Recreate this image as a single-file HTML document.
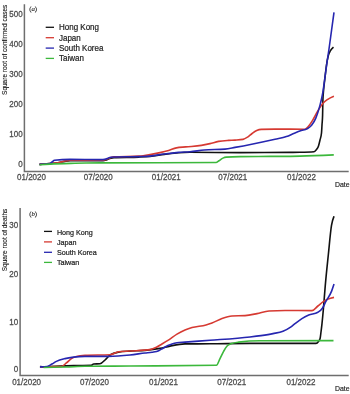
<!DOCTYPE html>
<html><head><meta charset="utf-8"><style>
html,body{margin:0;padding:0;background:#fff;width:350px;height:394px;overflow:hidden;}
svg{display:block;will-change:transform;filter:blur(0.3px);}
</style></head><body>
<svg width="350" height="394" viewBox="0 0 350 394">
<rect width="350" height="394" fill="#fff"/>
<g fill="none" stroke-width="1.6" stroke-linejoin="round" stroke-linecap="butt">
<path d="M39.50,164.40 C43.00,164.10 46.50,163.80 50.00,163.50 C52.67,163.27 55.33,163.19 58.00,162.80 C60.33,162.46 62.67,161.76 65.00,161.40 C66.67,161.14 68.33,160.82 70.00,160.80 C80.00,160.67 90.00,160.60 100.00,160.60 C101.00,160.60 102.00,160.60 103.00,160.60 C104.00,160.60 105.00,160.43 106.00,160.10 C106.83,159.82 107.67,159.23 108.50,158.90 C109.33,158.57 110.17,158.30 111.00,158.10 C112.00,157.86 113.00,157.75 114.00,157.70 C122.33,157.30 130.67,157.50 139.00,157.10 C142.67,156.92 146.33,156.75 150.00,156.40 C154.77,155.94 159.53,155.02 164.30,154.40 C169.07,153.78 173.83,153.03 178.60,152.70 C182.40,152.43 186.20,152.30 190.00,152.30 C206.67,152.30 223.33,152.60 240.00,152.60 C256.67,152.60 273.33,152.53 290.00,152.40 C293.33,152.37 296.67,152.37 300.00,152.30 C304.67,152.21 309.33,152.10 314.00,151.70 C314.83,151.63 315.67,150.64 316.50,149.50 C317.17,148.59 317.83,148.02 318.50,146.00 C319.00,144.48 319.50,142.17 320.00,140.00 C320.50,137.83 321.00,137.67 321.50,133.00 C321.67,131.44 321.83,127.72 322.00,125.00 C322.20,121.74 322.40,121.67 322.60,115.00 C322.70,111.67 322.80,102.86 322.90,100.00 C323.13,93.33 323.37,92.86 323.60,90.00 C323.97,85.50 324.33,83.23 324.70,80.00 C325.30,74.72 325.90,69.04 326.50,65.00 C327.13,60.73 327.77,57.75 328.40,55.40 C329.03,53.05 329.67,52.12 330.30,50.90 C331.37,48.84 332.43,47.97 333.50,47.10" stroke="#111111"/>
<path d="M39.50,164.40 C43.00,164.10 46.50,163.80 50.00,163.50 C52.67,163.27 55.33,163.27 58.00,162.80 C60.33,162.39 62.67,161.44 65.00,161.00 C66.67,160.69 68.33,160.32 70.00,160.30 C80.00,160.17 90.00,160.10 100.00,160.10 C101.00,160.10 102.00,160.10 103.00,160.10 C104.00,160.10 105.00,159.93 106.00,159.60 C106.83,159.32 107.67,158.77 108.50,158.40 C109.33,158.03 110.17,157.66 111.00,157.40 C112.00,157.09 113.00,156.86 114.00,156.80 C122.33,156.33 130.67,156.57 139.00,156.10 C142.67,155.89 146.33,155.22 150.00,154.60 C153.33,154.03 156.67,153.37 160.00,152.60 C162.87,151.94 165.73,151.23 168.60,150.40 C171.20,149.65 173.80,148.46 176.40,147.90 C179.50,147.23 182.60,147.22 185.70,146.90 C190.93,146.36 196.17,146.28 201.40,145.40 C204.27,144.92 207.13,144.27 210.00,143.60 C212.87,142.93 215.73,141.93 218.60,141.40 C221.93,140.79 225.27,140.63 228.60,140.40 C230.73,140.26 232.87,140.24 235.00,140.10 C237.67,139.93 240.33,139.87 243.00,139.40 C244.53,139.13 246.07,138.10 247.60,137.10 C249.10,136.12 250.60,134.57 252.10,133.50 C253.63,132.40 255.17,131.28 256.70,130.60 C258.23,129.92 259.77,129.47 261.30,129.40 C265.87,129.20 270.43,129.10 275.00,129.10 C284.90,129.10 294.80,129.20 304.70,129.20 C306.23,129.20 307.77,127.20 309.30,125.30 C310.40,123.94 311.50,122.09 312.60,120.30 C314.30,117.53 316.00,113.90 317.70,111.10 C319.40,108.30 321.10,105.48 322.80,103.50 C324.47,101.56 326.13,100.45 327.80,99.30 C329.83,97.90 331.87,97.05 333.90,96.20" stroke="#d63a32"/>
<path d="M39.50,164.40 C43.00,164.25 46.50,164.10 50.00,163.50 C50.67,163.39 51.33,162.49 52.00,162.00 C52.83,161.39 53.67,160.29 54.50,160.20 C59.67,159.67 64.83,159.40 70.00,159.40 C80.00,159.40 90.00,159.60 100.00,159.60 C101.00,159.60 102.00,159.60 103.00,159.60 C104.00,159.60 105.00,159.42 106.00,159.10 C106.83,158.84 107.67,158.30 108.50,158.00 C109.33,157.70 110.17,157.47 111.00,157.30 C112.00,157.10 113.00,157.03 114.00,157.00 C122.33,156.73 130.67,156.87 139.00,156.60 C142.67,156.48 146.33,156.43 150.00,156.10 C154.77,155.67 159.53,154.62 164.30,154.00 C169.07,153.38 173.83,152.80 178.60,152.40 C182.40,152.08 186.20,152.03 190.00,151.70 C194.77,151.29 199.53,150.41 204.30,150.00 C211.20,149.40 218.10,149.70 225.00,149.10 C228.33,148.81 231.67,147.99 235.00,147.40 C248.33,145.04 261.67,142.17 275.00,139.20 C278.80,138.35 282.60,137.91 286.40,136.60 C289.07,135.68 291.73,134.26 294.40,133.20 C296.70,132.28 299.00,131.37 301.30,130.60 C303.20,129.97 305.10,129.98 307.00,128.90 C308.53,128.03 310.07,127.25 311.60,125.30 C313.00,123.52 314.40,121.46 315.80,118.10 C317.07,115.06 318.33,111.34 319.60,106.60 C320.67,102.61 321.73,99.18 322.80,92.70 C323.40,89.05 324.00,84.30 324.60,80.00 C325.43,74.03 326.27,67.50 327.10,61.70 C327.73,57.29 328.37,53.40 329.00,49.00 C329.87,42.98 330.73,36.34 331.60,30.00 C332.40,24.14 333.20,18.27 334.00,12.40" stroke="#2626b0"/>
<path d="M39.50,164.80 C43.00,164.55 46.50,164.30 50.00,164.10 C58.33,163.63 66.67,163.50 75.00,163.30 C83.33,163.10 91.67,162.96 100.00,162.90 C138.67,162.63 177.33,162.77 216.00,162.50 C217.00,162.49 218.00,161.42 219.00,160.80 C220.30,159.99 221.60,158.72 222.90,158.10 C224.03,157.56 225.17,157.18 226.30,157.10 C230.87,156.77 235.43,156.66 240.00,156.60 C250.00,156.47 260.00,156.48 270.00,156.40 C280.00,156.32 290.00,156.30 300.00,156.10 C311.27,155.87 322.53,155.39 333.80,154.90" stroke="#3cb83c"/>
<path d="M39.90,366.60 C41.47,366.75 43.03,366.90 44.60,366.90 C46.40,366.90 48.20,366.62 50.00,366.50 C58.33,365.94 66.67,365.78 75.00,365.60 C80.47,365.48 85.93,365.53 91.40,365.40 C92.13,365.38 92.87,364.05 93.60,364.00 C95.73,363.87 97.87,363.93 100.00,363.80 C101.90,363.68 103.80,361.03 105.70,359.30 C107.13,358.00 108.57,355.97 110.00,355.00 C112.87,353.07 115.73,352.60 118.60,352.10 C122.40,351.43 126.20,351.37 130.00,351.10 C135.00,350.75 140.00,350.85 145.00,350.40 C150.00,349.95 155.00,349.36 160.00,348.40 C163.33,347.76 166.67,346.76 170.00,346.10 C175.00,345.12 180.00,343.94 185.00,343.90 C193.33,343.83 201.67,343.85 210.00,343.80 C223.33,343.72 236.67,343.40 250.00,343.40 C272.00,343.40 294.00,343.40 316.00,343.40 C316.83,343.40 317.67,342.70 318.50,341.50 C319.03,340.73 319.57,340.50 320.10,338.50 C320.40,337.38 320.70,334.33 321.00,332.00 C321.33,329.41 321.67,326.70 322.00,323.60 C322.43,319.57 322.87,314.88 323.30,310.00 C323.93,302.87 324.57,293.72 325.20,286.40 C326.23,274.46 327.27,265.02 328.30,255.00 C329.37,244.66 330.43,231.91 331.50,225.40 C332.33,220.32 333.17,218.31 334.00,216.30" stroke="#111111"/>
<path d="M40.00,366.90 C42.67,366.83 45.33,366.76 48.00,366.70 C52.47,366.61 56.93,366.63 61.40,366.50 C63.07,366.45 64.73,364.22 66.40,362.90 C68.07,361.58 69.73,359.68 71.40,358.60 C73.07,357.52 74.73,356.83 76.40,356.40 C79.27,355.67 82.13,355.44 85.00,355.30 C93.33,354.90 101.67,355.10 110.00,354.70 C112.87,354.56 115.73,352.05 118.60,351.70 C122.40,351.23 126.20,351.25 130.00,351.00 C136.67,350.57 143.33,350.53 150.00,349.60 C152.13,349.30 154.27,348.33 156.40,347.30 C158.27,346.40 160.13,345.12 162.00,344.00 C163.97,342.82 165.93,341.66 167.90,340.40 C170.93,338.45 173.97,335.89 177.00,334.10 C179.67,332.53 182.33,331.23 185.00,330.10 C187.33,329.11 189.67,328.30 192.00,327.60 C196.67,326.20 201.33,326.35 206.00,325.00 C208.00,324.42 210.00,323.75 212.00,323.00 C215.33,321.74 218.67,319.67 222.00,318.50 C225.33,317.33 228.67,316.21 232.00,316.00 C236.33,315.73 240.67,315.87 245.00,315.60 C249.00,315.35 253.00,314.37 257.00,313.60 C261.00,312.83 265.00,311.25 269.00,311.00 C274.33,310.67 279.67,310.50 285.00,310.50 C294.00,310.50 303.00,310.60 312.00,310.60 C313.97,310.60 315.93,307.56 317.90,306.00 C319.80,304.49 321.70,302.62 323.60,301.40 C325.10,300.44 326.60,299.72 328.10,299.10 C330.07,298.28 332.03,297.84 334.00,297.40" stroke="#d63a32"/>
<path d="M40.00,366.90 C42.37,366.83 44.73,366.77 47.10,366.50 C48.73,366.32 50.37,364.90 52.00,364.00 C53.47,363.19 54.93,362.13 56.40,361.40 C59.27,359.96 62.13,359.32 65.00,358.60 C67.87,357.88 70.73,357.45 73.60,357.10 C77.40,356.63 81.20,356.40 85.00,356.40 C92.87,356.40 100.73,356.40 108.60,356.40 C115.73,356.40 122.87,355.75 130.00,355.00 C135.00,354.47 140.00,353.60 145.00,353.00 C147.33,352.72 149.67,352.60 152.00,352.20 C154.23,351.82 156.47,351.69 158.70,350.70 C160.13,350.07 161.57,349.00 163.00,348.20 C164.63,347.29 166.27,346.36 167.90,345.60 C169.27,344.96 170.63,344.36 172.00,343.90 C173.67,343.34 175.33,342.95 177.00,342.70 C179.67,342.30 182.33,342.30 185.00,342.10 C193.33,341.48 201.67,340.93 210.00,340.30 C223.33,339.29 236.67,338.57 250.00,337.00 C253.67,336.57 257.33,336.14 261.00,335.60 C265.00,335.02 269.00,334.43 273.00,333.60 C276.33,332.91 279.67,332.55 283.00,331.20 C285.67,330.12 288.33,328.80 291.00,326.90 C292.33,325.95 293.67,324.74 295.00,323.70 C297.30,321.91 299.60,320.04 301.90,318.60 C304.17,317.18 306.43,316.06 308.70,315.10 C311.77,313.80 314.83,314.17 317.90,312.30 C319.40,311.39 320.90,310.55 322.40,308.30 C323.57,306.55 324.73,303.63 325.90,301.40 C327.80,297.77 329.70,296.02 331.60,291.10 C332.40,289.03 333.20,286.56 334.00,284.10" stroke="#2626b0"/>
<path d="M43.60,367.50 C51.07,367.36 58.53,367.23 66.00,367.00 C72.33,366.81 78.67,366.38 85.00,366.30 C100.00,366.10 115.00,366.11 130.00,366.00 C158.80,365.79 187.60,365.77 216.40,365.30 C217.60,365.28 218.80,360.92 220.00,358.60 C221.20,356.28 222.40,353.52 223.60,351.40 C224.77,349.34 225.93,347.28 227.10,346.00 C228.53,344.42 229.97,344.20 231.40,343.60 C233.80,342.60 236.20,342.39 238.60,342.10 C245.73,341.23 252.87,340.84 260.00,340.80 C284.50,340.67 309.00,340.63 333.50,340.60" stroke="#3cb83c"/>
</g>
<g stroke="#6e6e6e" stroke-width="1.5" fill="none">
<path d="M24.4,4.3 V171.6 H348.7"/>
<path d="M20.1,208.1 V375.5 H348.7"/>
</g>
<g font-family="Liberation Sans, sans-serif" fill="#4d4d4d" stroke="#4d4d4d" stroke-width="0.25"><text transform="translate(22.6,16.6) scale(1,1.22)" font-size="8" text-anchor="end">500</text>
<text transform="translate(22.6,46.8) scale(1,1.22)" font-size="8" text-anchor="end">400</text>
<text transform="translate(22.6,76.9) scale(1,1.22)" font-size="8" text-anchor="end">300</text>
<text transform="translate(22.6,107.1) scale(1,1.22)" font-size="8" text-anchor="end">200</text>
<text transform="translate(22.6,137.2) scale(1,1.22)" font-size="8" text-anchor="end">100</text>
<text transform="translate(22.6,167.4) scale(1,1.22)" font-size="8" text-anchor="end">0</text>
<text transform="translate(18.2,228.4) scale(1,1.22)" font-size="8" text-anchor="end">30</text>
<text transform="translate(18.2,276.6) scale(1,1.22)" font-size="8" text-anchor="end">20</text>
<text transform="translate(18.2,324.5) scale(1,1.22)" font-size="8" text-anchor="end">10</text>
<text transform="translate(18.2,372.2) scale(1,1.22)" font-size="8" text-anchor="end">0</text>
<text transform="translate(31.5,180.2) scale(1,1.22)" font-size="8" text-anchor="middle">01/2020</text>
<text transform="translate(98.3,180.2) scale(1,1.22)" font-size="8" text-anchor="middle">07/2020</text>
<text transform="translate(166.3,180.2) scale(1,1.22)" font-size="8" text-anchor="middle">01/2021</text>
<text transform="translate(232.8,180.2) scale(1,1.22)" font-size="8" text-anchor="middle">07/2021</text>
<text transform="translate(301.4,180.2) scale(1,1.22)" font-size="8" text-anchor="middle">01/2022</text>
<text transform="translate(26.6,384.7) scale(1,1.22)" font-size="8" text-anchor="middle">01/2020</text>
<text transform="translate(94.4,384.7) scale(1,1.22)" font-size="8" text-anchor="middle">07/2020</text>
<text transform="translate(163.5,384.7) scale(1,1.22)" font-size="8" text-anchor="middle">01/2021</text>
<text transform="translate(231.7,384.7) scale(1,1.22)" font-size="8" text-anchor="middle">07/2021</text>
<text transform="translate(300.9,384.7) scale(1,1.22)" font-size="8" text-anchor="middle">01/2022</text></g>
<g font-family="Liberation Sans, sans-serif" fill="#1a1a1a" font-size="6.5" stroke="#1a1a1a" stroke-width="0.12">
<text x="335" y="187.2" font-size="6.9" stroke="#1a1a1a" stroke-width="0.15">Date</text>
<text x="335" y="391.3" font-size="6.9" stroke="#1a1a1a" stroke-width="0.15">Date</text>
<text x="29.2" y="10.9" font-family="Liberation Serif, serif" font-size="6.8">(<tspan font-style="italic">a</tspan>)</text>
<text x="29.2" y="215.9" font-family="Liberation Serif, serif" font-size="6.8">(<tspan font-style="italic">b</tspan>)</text>
<text transform="translate(7.1,49.8) rotate(-90)" text-anchor="middle">Square root of confirmed cases</text>
<text transform="translate(7.3,240) rotate(-90)" text-anchor="middle">Square root of deaths</text>
</g>
<g stroke-width="1.3">
<line x1="45.7" x2="54" y1="27.3" y2="27.3" stroke="#111111"/>
<line x1="45.7" x2="54" y1="37.7" y2="37.7" stroke="#d63a32"/>
<line x1="45.7" x2="54" y1="48.1" y2="48.1" stroke="#2626b0"/>
<line x1="45.7" x2="54" y1="58.4" y2="58.4" stroke="#3cb83c"/>
<line x1="44" x2="52" y1="231.4" y2="231.4" stroke="#111111"/>
<line x1="44" x2="52" y1="241.9" y2="241.9" stroke="#d63a32"/>
<line x1="44" x2="52" y1="252.3" y2="252.3" stroke="#2626b0"/>
<line x1="44" x2="52" y1="262.4" y2="262.4" stroke="#3cb83c"/>
</g>
<g font-family="Liberation Sans, sans-serif" fill="#222" stroke="#222" stroke-width="0.2"><text transform="translate(59,30.2) scale(1,1.05)" font-size="8">Hong Kong</text>
<text transform="translate(59,40.6) scale(1,1.05)" font-size="8">Japan</text>
<text transform="translate(59,51.1) scale(1,1.05)" font-size="8">South Korea</text>
<text transform="translate(59,61.3) scale(1,1.05)" font-size="8">Taiwan</text>
<text transform="translate(56.9,234.8) scale(1,1.1)" font-size="7.2">Hong Kong</text>
<text transform="translate(56.9,245.4) scale(1,1.1)" font-size="7.2">Japan</text>
<text transform="translate(56.9,255.2) scale(1,1.1)" font-size="7.2">South Korea</text>
<text transform="translate(56.9,265.4) scale(1,1.1)" font-size="7.2">Taiwan</text></g>
</svg>
</body></html>
